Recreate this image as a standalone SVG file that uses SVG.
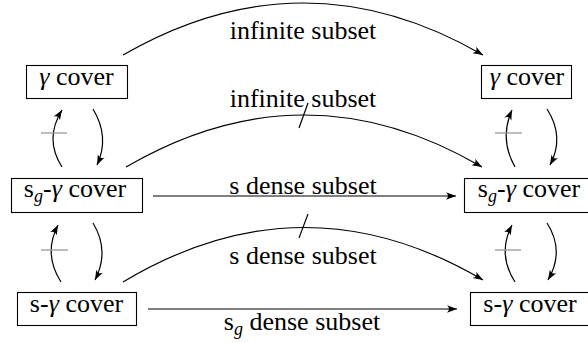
<svg xmlns="http://www.w3.org/2000/svg" width="588" height="343" viewBox="0 0 588 343">
  <defs>
    <marker id="head" markerUnits="userSpaceOnUse" markerWidth="11" markerHeight="9" viewBox="0 0 11 9" refX="10" refY="4.5" orient="auto">
      <path d="M0,0.8 Q4,4.5 0,8.2 L10,4.5 Z" fill="#000"/>
    </marker>
  </defs>

  <!-- nodes -->
  <g id="gamma-left">
    <rect x="26.5" y="65.5" width="101" height="33" fill="#fff" stroke="#000" stroke-width="1.1"/>
    <text x="76.5" y="85" text-anchor="middle" font-family="Liberation Serif" font-size="26"><tspan font-style="italic">γ</tspan> cover</text>
  </g>
  <g id="sg-gamma-left">
    <rect x="11.5" y="178.5" width="131" height="34" fill="#fff" stroke="#000" stroke-width="1.1"/>
    <text x="75" y="197" text-anchor="middle" font-family="Liberation Serif" font-size="26">s<tspan font-style="italic" font-size="18" dy="5">g</tspan><tspan dy="-5">-</tspan><tspan font-style="italic">γ</tspan> cover</text>
  </g>
  <g id="s-gamma-left">
    <rect x="17.5" y="292.5" width="119" height="33" fill="#fff" stroke="#000" stroke-width="1.1"/>
    <text x="76.5" y="312" text-anchor="middle" font-family="Liberation Serif" font-size="26">s-<tspan font-style="italic">γ</tspan> cover</text>
  </g>
  <g id="gamma-right">
    <rect x="481.5" y="65.5" width="90" height="33" fill="#fff" stroke="#000" stroke-width="1.1"/>
    <text x="527" y="85" text-anchor="middle" font-family="Liberation Serif" font-size="26"><tspan font-style="italic">γ</tspan> cover</text>
  </g>
  <g id="sg-gamma-right">
    <rect x="464.5" y="178.5" width="140" height="34" fill="#fff" stroke="#000" stroke-width="1.1"/>
    <text x="529" y="197" text-anchor="middle" font-family="Liberation Serif" font-size="26">s<tspan font-style="italic" font-size="18" dy="5">g</tspan><tspan dy="-5">-</tspan><tspan font-style="italic">γ</tspan> cover</text>
  </g>
  <g id="s-gamma-right">
    <rect x="470.5" y="292.5" width="130" height="33" fill="#fff" stroke="#000" stroke-width="1.1"/>
    <text x="530" y="312" text-anchor="middle" font-family="Liberation Serif" font-size="26">s-<tspan font-style="italic">γ</tspan> cover</text>
  </g>

  <!-- connectors -->
  <g id="connectors">
    <g fill="none" stroke="#000" stroke-width="1.2" marker-end="url(#head)">
      <!-- horizontal implications -->
      <path d="M123,55 Q303,-49 483,55"/>
      <path d="M126,167 Q304,63 482,167"/>
      <path d="M153,196 H456"/>
      <path d="M123,282 Q303,174 483,280"/>
      <path d="M148,309 H457"/>
      <!-- vertical implications, left column -->
      <path d="M62,167 Q44,139 62,110"/>
      <path d="M93,109 Q110,137 97,165"/>
      <path d="M61,282 Q43,254 58,225"/>
      <path d="M93,223 Q110,251 95,280"/>
      <!-- vertical implications, right column -->
      <path d="M515,167 Q499,139 512,110"/>
      <path d="M547,109 Q565,137 550,165"/>
      <path d="M515,282 Q497,254 512,225"/>
      <path d="M547,223 Q565,251 548,280"/>
    </g>
    <!-- negation strokes -->
    <g stroke="#000" stroke-width="1.2">
      <line x1="299" y1="128" x2="308" y2="103"/>
      <line x1="299" y1="238" x2="308" y2="214"/>
    </g>
    <g stroke="#999" stroke-width="1.3">
      <line x1="41" y1="133" x2="67" y2="133"/>
      <line x1="41" y1="250" x2="68" y2="250"/>
      <line x1="495" y1="133" x2="522" y2="133"/>
      <line x1="495" y1="250" x2="521" y2="250"/>
    </g>

    <!-- edge labels -->
    <text x="303" y="39" text-anchor="middle" font-family="Liberation Serif" font-size="26">infinite subset</text>
    <text x="303" y="107" text-anchor="middle" font-family="Liberation Serif" font-size="26">infinite subset</text>
    <text x="303" y="194" text-anchor="middle" font-family="Liberation Serif" font-size="26">s dense subset</text>
    <text x="303" y="264" text-anchor="middle" font-family="Liberation Serif" font-size="26">s dense subset</text>
    <text x="302" y="330" text-anchor="middle" font-family="Liberation Serif" font-size="26">s<tspan font-style="italic" font-size="18" dy="5">g</tspan><tspan dy="-5"> dense subset</tspan></text>
  </g>
</svg>
